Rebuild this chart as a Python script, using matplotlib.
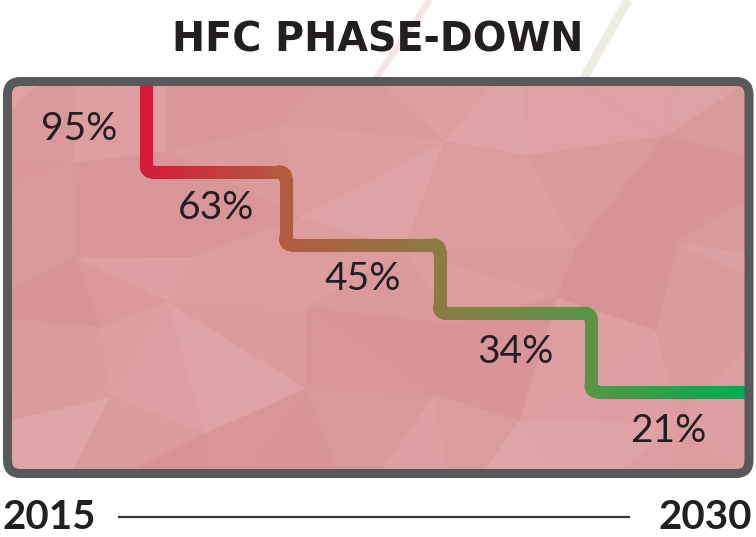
import numpy as np
import matplotlib
matplotlib.use("Agg")
import matplotlib.pyplot as plt
from matplotlib.collections import LineCollection, PolyCollection
from matplotlib.colors import LinearSegmentedColormap, to_rgb
from matplotlib.patches import FancyBboxPatch
import matplotlib.tri as mtri

# --- data -----------------------------------------------------------------
title = "HFC PHASE-DOWN"
start_year, end_year = 2015, 2030
step_years = [2017.75, 2020.6, 2023.75, 2026.85]   # where each drop happens
step_levels = [1.12, 2.07, 2.96, 3.98]             # stair row of each run (0 = top)
shares = [95, 63, 45, 34, 21]                      # % of baseline allowed
n_levels = 5

W, H = 756, 537
fig = plt.figure(figsize=(W / 100, H / 100), dpi=100)

# full-figure pixel axes for the decoration
ax_bg = fig.add_axes([0, 0, 1, 1])
ax_bg.set_xlim(0, W)
ax_bg.set_ylim(H, 0)
ax_bg.axis("off")

# faint diagonal strokes behind the title
ax_bg.plot([430, 368], [0, 90], color="#f5e6e4", lw=4.5, solid_capstyle="butt", zorder=0)
ax_bg.plot([628, 577], [0, 90], color="#efece6", lw=6.5, solid_capstyle="butt", zorder=0)

# box
box_kw = dict(boxstyle="round,pad=0,rounding_size=13")
fill = FancyBboxPatch((7.5, 81.5), 741.5, 392, facecolor="#db9c9e", edgecolor="none",
                      zorder=1, **box_kw)
ax_bg.add_patch(fill)


# low-poly texture (decoration only, deterministic)
def _h(*k):
    v = np.sin(k[0] * 127.1 + k[1] * 311.7 + k[2] * 74.7) * 43758.5453
    return v - np.floor(v)


gx = np.linspace(-40, 796, 8)
gy = np.linspace(50, 510, 6)
pts = []
for i, x in enumerate(gx):
    for j, y in enumerate(gy):
        dx = (_h(i, j, 1) - 0.5) * 80 if 0 < i < len(gx) - 1 else 0
        dy = (_h(i, j, 2) - 0.5) * 60 if 0 < j < len(gy) - 1 else 0
        pts.append((x + dx, y + dy))
pts = np.array(pts)
tri = mtri.Triangulation(pts[:, 0], pts[:, 1])
c_dark = np.array(to_rgb("#d69193"))
c_light = np.array(to_rgb("#e0a5a7"))
polys, cols = [], []
for k, t in enumerate(tri.triangles):
    p = pts[t]
    cx, cy = p.mean(axis=0)
    s = 0.55 * _h(k, 3, 7) + 0.45 * (0.5 + 0.5 * np.sin(cx * 0.011 + cy * 0.017))
    polys.append(p)
    cols.append(c_dark + (c_light - c_dark) * s)
pc = PolyCollection(polys, facecolors=cols, edgecolors=cols, linewidths=0.6, zorder=2)
pc.set_clip_path(fill)
ax_bg.add_collection(pc)

# data axes over the inner box
ax = fig.add_axes([12 / W, 1 - 470 / H, 733 / W, 384 / H])
ax.set_xlim(start_year, end_year)
ax.set_ylim(n_levels, 0)
ax.axis("off")
ax.patch.set_visible(False)

# stair centre line in data units
path = [(step_years[0], -0.3)]
for i, (x, y) in enumerate(zip(step_years, step_levels)):
    path.append((x, y))
    nx = step_years[i + 1] if i + 1 < len(step_years) else end_year + 0.3
    path.append((nx, y))
path = np.array(path)

# round the corners in pixel space
disp = ax.transData.transform(path)
r = 7.0
dense = [disp[0]]
for k in range(1, len(disp) - 1):
    a, p, b = disp[k - 1], disp[k], disp[k + 1]
    d1 = (p - a) / np.linalg.norm(p - a)
    d2 = (b - p) / np.linalg.norm(b - p)
    A, C = p - d1 * r, p + d2 * r
    prev = dense[-1]
    n = max(2, int(np.linalg.norm(A - prev) / 2))
    for t in np.linspace(0, 1, n)[1:]:
        dense.append(prev + (A - prev) * t)
    for t in np.linspace(0, 1, 10)[1:]:
        dense.append((1 - t) ** 2 * A + 2 * (1 - t) * t * p + t ** 2 * C)
prev = dense[-1]
n = max(2, int(np.linalg.norm(disp[-1] - prev) / 2))
for t in np.linspace(0, 1, n)[1:]:
    dense.append(prev + (disp[-1] - prev) * t)
dense = np.array(dense)
line_pts = ax.transData.inverted().transform(dense)
segs = np.stack([line_pts[:-1], line_pts[1:]], axis=1)

cmap = LinearSegmentedColormap.from_list(
    "phase", [(0, "#d51a3a"), (0.23, "#b45a3e"), (0.49, "#8c7a41"), (0.74, "#5a9545"), (1, "#00ac4f")])
xmid = segs[:, :, 0].mean(axis=1)
tcol = np.clip((xmid - step_years[0]) / (end_year - step_years[0]), 0, 1)
lc = LineCollection(segs, colors=cmap(tcol), linewidths=9.4, capstyle="round", zorder=3)
ax.add_collection(lc)

# percentage labels, one per stair cell
col_edges = [start_year] + step_years + [end_year]
row_edges = [0] + step_levels + [n_levels]
for i, v in enumerate(shares):
    ax.text((col_edges[i] + col_edges[i + 1]) / 2, (row_edges[i] + row_edges[i + 1]) / 2,
            f"{v}%", ha="center", va="center", fontsize=28, family="Lato",
            fontweight="normal", color="#231f20", zorder=4)

# border on top of everything
border = FancyBboxPatch((7.5, 81.5), 741.5, 392, facecolor="none", edgecolor="#58595b",
                        lw=6.5, transform=ax_bg.transData, clip_on=False, zorder=10, **box_kw)
ax.add_patch(border)

# title and timeline
ax_bg.text(W / 2, 52, title, ha="center", va="baseline", fontsize=28.5,
           fontweight="bold", family="DejaVu Sans", color="#231f20")
ax_bg.text(3, 536, str(start_year), ha="left", va="bottom", fontsize=29,
           fontweight="bold", family="Lato", color="#231f20")
ax_bg.text(752, 536, str(end_year), ha="right", va="bottom", fontsize=29,
           fontweight="bold", family="Lato", color="#231f20")
ax_bg.plot([118, 630], [517, 517], color="#333333", lw=1.6, solid_capstyle="butt")

fig.savefig("out.png", dpi=100)
